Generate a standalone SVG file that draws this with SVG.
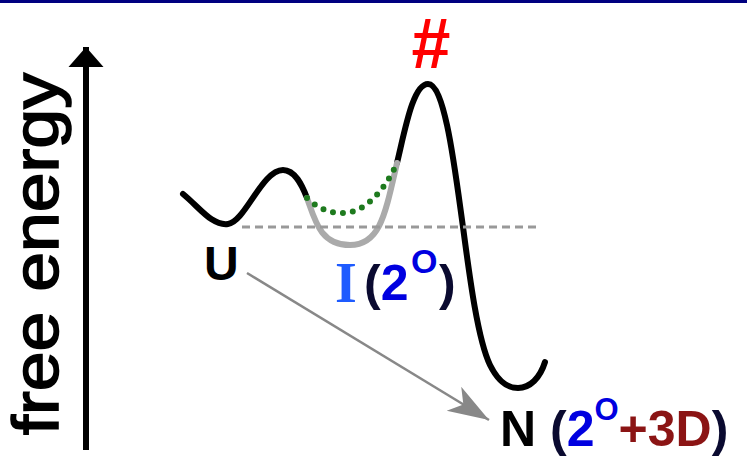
<svg xmlns="http://www.w3.org/2000/svg" width="747" height="462" viewBox="0 0 747 462">
<style>
.curve{fill:none;stroke:#000;stroke-width:6;stroke-linecap:round;stroke-linejoin:round}
.lbl{font-family:"Liberation Sans",Arial,sans-serif;font-weight:bold}
</style>
<defs>
<marker id="ah" viewBox="-42 -15 43 30" refX="0" refY="0" markerWidth="43" markerHeight="30" markerUnits="userSpaceOnUse" orient="auto">
<path d="M0,0 L-41,-14 L-30,0 L-41,14 Z" fill="#888"/>
</marker>
<marker id="axh" viewBox="-20 -18 21 36" refX="0" refY="0" markerWidth="21" markerHeight="36" markerUnits="userSpaceOnUse" orient="auto">
<path d="M0,0 L-20,-17.5 L-20,17.5 Z" fill="#000"/>
</marker>
</defs>
<rect width="747" height="462" fill="#fff"/>
<rect width="747" height="3" fill="#000080"/>
<g id="axis">
<line x1="86" y1="450" x2="86" y2="47" stroke="#000" stroke-width="6" marker-end="url(#axh)"/>
<text font-family="'Liberation Sans',Arial,sans-serif" font-size="64" stroke="#000" stroke-width="1.6" text-anchor="middle" textLength="362" lengthAdjust="spacingAndGlyphs" transform="translate(58,254) rotate(-90)">free energy</text>
</g>
<g id="landscape">
<path class="curve" d="M183,194 C200,208 212,226 228,224 C245,222 262,170 283,170 C295,170 302,185 307,198"/>
<path class="curve" d="M397,163 C405,130 413,84 428,84 C445,84 455,170 463,227 C470,280 478,340 490,365 C500,385 510,388 518,388 C530,388 540,378 545,362"/>
<path d="M307,198 C315,220 320,245 350,245 C380,245 385,215 397,163" fill="none" stroke="#aaa" stroke-width="6" stroke-linecap="round"/>
<path d="M307,198 C320,210 330,213 343,213 C365,213 385,190 397,163" fill="none" stroke="#1e7a1e" stroke-width="6" stroke-linecap="round" stroke-dasharray="0 10"/>
<line x1="242" y1="227" x2="537" y2="227" stroke="#999" stroke-width="3" stroke-dasharray="8 5"/>
</g>
<g id="ts">
<text class="lbl" x="431" y="68" font-size="70" fill="#f00" text-anchor="middle">#</text>
</g>
<g id="U">
<text class="lbl" x="204" y="280" font-size="48" fill="#000">U</text>
</g>
<g id="I">
<text x="335" y="302" font-family="'Liberation Serif','Times New Roman',serif" font-weight="bold" font-size="56" fill="#1e5bff">I</text>
<text class="lbl" y="300" font-size="50"><tspan x="364" fill="#0a0a30">(</tspan><tspan fill="#0000e0">2</tspan><tspan x="411" y="273" font-size="34" fill="#0000e0">O</tspan><tspan x="439" y="300" fill="#0a0a30">)</tspan></text>
</g>
<g id="N">
<text class="lbl" y="446" font-size="50"><tspan x="500" fill="#000">N</tspan><tspan fill="#0a0a30"> (</tspan><tspan fill="#0000e0">2</tspan><tspan y="420" font-size="31" fill="#0000e0">O</tspan><tspan y="446" fill="#8b1414">+3D</tspan><tspan fill="#0a0a30">)</tspan></text>
</g>
<g id="connectors">
<line x1="247" y1="273" x2="489" y2="420" stroke="#888" stroke-width="2.5" marker-end="url(#ah)"/>
</g>
</svg>
